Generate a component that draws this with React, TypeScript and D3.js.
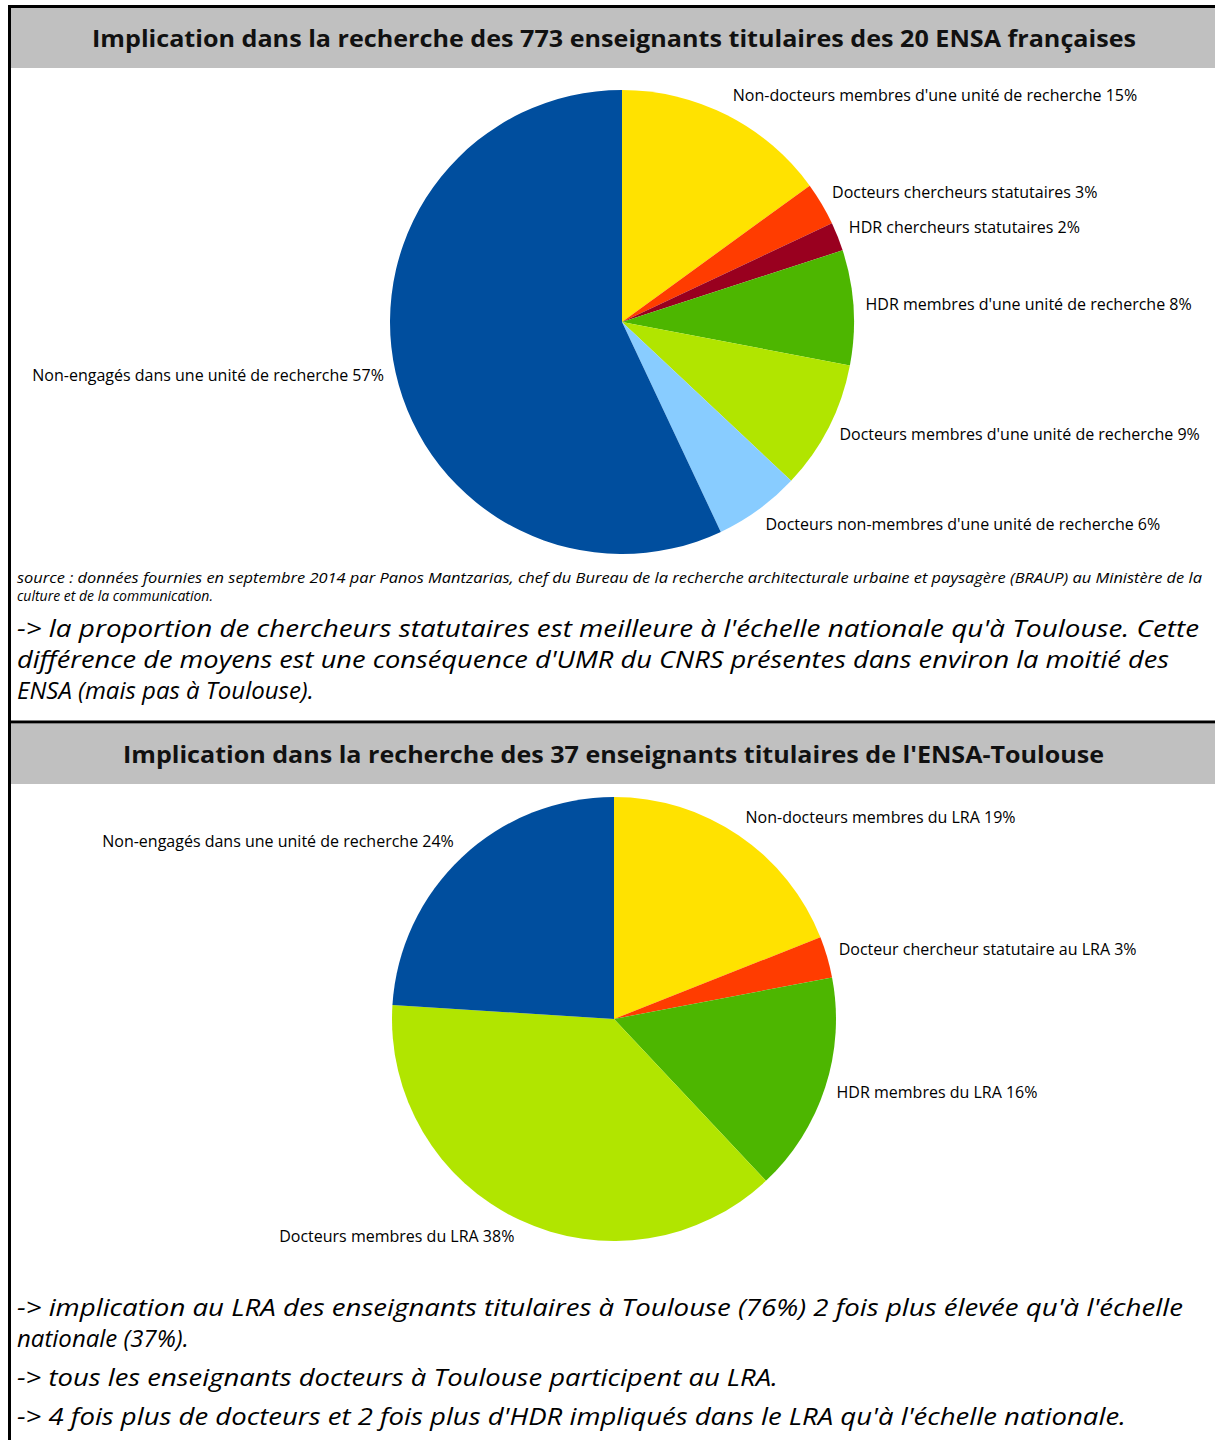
import React from "react";
import * as d3 from "d3";

interface Slice {
  label: string;
  value: number;
  color: string;
}

// ---- data ----
const titleNational =
  "Implication dans la recherche des 773 enseignants titulaires des 20 ENSA françaises";
const titleToulouse =
  "Implication dans la recherche des 37 enseignants titulaires de l'ENSA-Toulouse";

const nationalLabels = [
  "Non-docteurs membres d'une unité de recherche",
  "Docteurs chercheurs statutaires",
  "HDR chercheurs statutaires",
  "HDR membres d'une unité de recherche",
  "Docteurs membres d'une unité de recherche",
  "Docteurs non-membres d'une unité de recherche",
  "Non-engagés dans une unité de recherche",
];
const nationalValues = [15, 3, 2, 8, 9, 6, 57];
const nationalColors = ["#ffe200", "#ff3c00", "#99001f", "#4db600", "#b1e500", "#88ccff", "#004e9e"];

const toulouseLabels = [
  "Non-docteurs membres du LRA",
  "Docteur chercheur statutaire au LRA",
  "HDR membres du LRA",
  "Docteurs membres du LRA",
  "Non-engagés dans une unité de recherche",
];
const toulouseValues = [19, 3, 16, 38, 24];
const toulouseColors = ["#ffe200", "#ff3c00", "#4db600", "#b1e500", "#004e9e"];

const sourceLines = [
  "source : données fournies en septembre 2014 par Panos Mantzarias, chef du Bureau de la recherche architecturale urbaine et paysagère (BRAUP) au Ministère de la",
  "culture et de la communication.",
];
const noteNational = [
  "-> la proportion de chercheurs statutaires est meilleure à l'échelle nationale qu'à Toulouse. Cette",
  "différence de moyens est une conséquence d'UMR du CNRS présentes dans environ la moitié des",
  "ENSA (mais pas à Toulouse).",
];
const noteToulouse = [
  "-> implication au LRA des enseignants titulaires à Toulouse (76%) 2 fois plus élevée qu'à l'échelle",
  "nationale (37%).",
  "-> tous les enseignants docteurs à Toulouse participent au LRA.",
  "-> 4 fois plus de docteurs et 2 fois plus d'HDR impliqués dans le LRA qu'à l'échelle nationale.",
];

const zip = (labels: string[], values: number[], colors: string[]): Slice[] =>
  labels.map((label, i) => ({ label, value: values[i], color: colors[i] }));

const W = 1215;
const H = 1440;
const labelFont = "'Open Sans', 'DejaVu Sans', sans-serif";
const italicFont = "'Open Sans', 'Noto Sans', sans-serif";

const Pie: React.FC<{ data: Slice[]; cx: number; cy: number; r: number }> = ({ data, cx, cy, r }) => {
  const pie = d3.pie<Slice>().sort(null).value((d) => d.value);
  const arcs = pie(data);
  const arc = d3.arc<d3.PieArcDatum<Slice>>().innerRadius(0).outerRadius(r);
  const labelArc = d3
    .arc<d3.PieArcDatum<Slice>>()
    .innerRadius(r + 12)
    .outerRadius(r + 12);
  return (
    <g transform={`translate(${cx},${cy})`}>
      {arcs.map((a, i) => (
        <path key={i} d={arc(a) || ""} fill={a.data.color} />
      ))}
      {arcs.map((a, i) => {
        const [x, y] = labelArc.centroid(a);
        const mid = (a.startAngle + a.endAngle) / 2;
        // push labels a little away vertically from the pie
        const dy = -2 - 8 * Math.cos(mid);
        return (
          <text
            key={"l" + i}
            x={x}
            y={y + dy}
            textAnchor={mid < Math.PI ? "start" : "end"}
            dominantBaseline="central"
            fontFamily={labelFont}
            fontSize={16}
            fill="#000"
          >
            {`${a.data.label} ${a.data.value}%`}
          </text>
        );
      })}
    </g>
  );
};

const Lines: React.FC<{
  lines: string[];
  x: number;
  ys: number[];
  size: number;
  lengths?: (number | undefined)[];
}> = ({ lines, x, ys, size, lengths }) => (
  <g>
    {lines.map((t, i) => (
      <text
        key={i}
        x={x}
        y={ys[i]}
        fontFamily={italicFont}
        fontStyle="italic"
        fontSize={size}
        fill="#000"
        textLength={lengths && lengths[i]}
        lengthAdjust="spacingAndGlyphs"
      >
        {t}
      </text>
    ))}
  </g>
);

export default function App() {
  const national = zip(nationalLabels, nationalValues, nationalColors);
  const toulouse = zip(toulouseLabels, toulouseValues, toulouseColors);
  return (
    <svg
      width={W}
      height={H}
      viewBox={`0 0 ${W} ${H}`}
      style={{ position: "absolute", left: 0, top: 0, background: "#fff" }}
    >
      <rect x={0} y={0} width={W} height={H} fill="#fff" />
      {/* headers */}
      <rect x={10} y={8} width={W - 10} height={60} fill="#c0c0c0" />
      <rect x={10} y={724} width={W - 10} height={60} fill="#c0c0c0" />
      <text
        x={614}
        y={47}
        textAnchor="middle"
        fontFamily={labelFont}
        fontWeight="bold"
        fontSize={23}
        textLength={1044}
        lengthAdjust="spacingAndGlyphs"
        fill="#111"
      >
        {titleNational}
      </text>
      <text
        x={613.5}
        y={763}
        textAnchor="middle"
        fontFamily={labelFont}
        fontWeight="bold"
        fontSize={23}
        textLength={981}
        lengthAdjust="spacingAndGlyphs"
        fill="#111"
      >
        {titleToulouse}
      </text>
      {/* borders */}
      <line x1={8} y1={6.5} x2={W} y2={6.5} stroke="#000" strokeWidth={3} />
      <line x1={9.5} y1={5} x2={9.5} y2={H} stroke="#000" strokeWidth={3} />
      <line x1={8} y1={722} x2={W} y2={722} stroke="#000" strokeWidth={3} />

      <Pie data={national} cx={622} cy={322} r={232} />
      <Pie data={toulouse} cx={614} cy={1019} r={222} />

      <Lines lines={sourceLines} x={17} ys={[583, 601]} size={14} lengths={[1185, undefined]} />
      <Lines lines={noteNational} x={17} ys={[637, 668, 699]} size={24} lengths={[1182, 1152, undefined]} />
      <Lines
        lines={noteToulouse}
        x={17}
        ys={[1316, 1347, 1386, 1425]}
        size={24}
        lengths={[1166, undefined, 761, 1109]}
      />
    </svg>
  );
}
